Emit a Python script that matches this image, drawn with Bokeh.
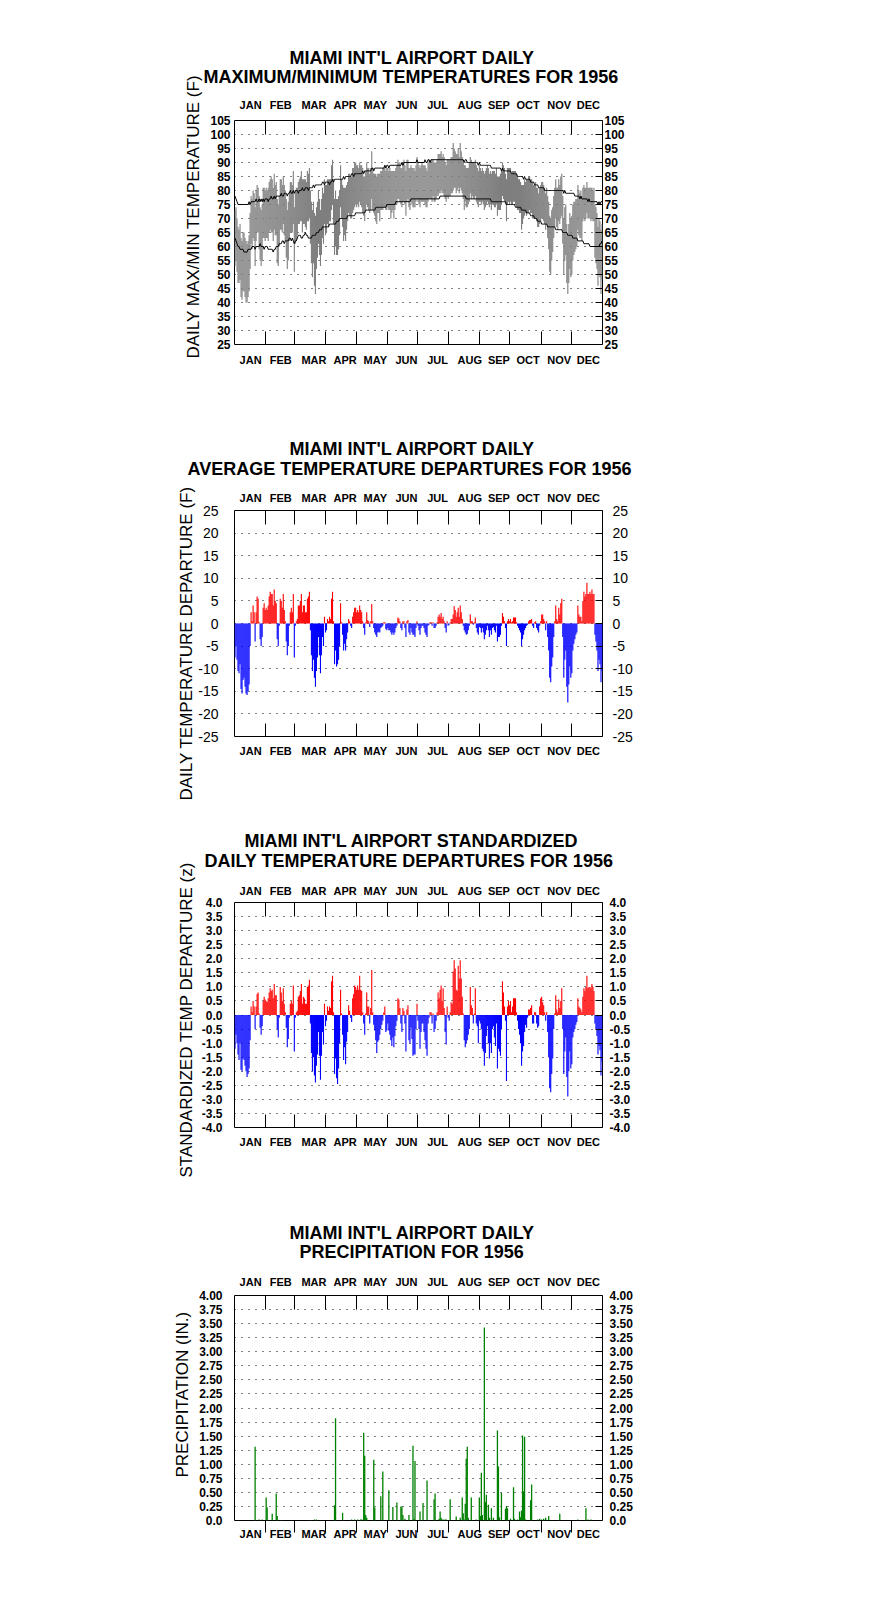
import numpy as np
from bokeh.plotting import figure
from bokeh.models import Range1d, LinearAxis, FixedTicker, Grid, Title, PrintfTickFormatter
from bokeh.layouts import column
from bokeh.embed import file_html
from bokeh.resources import INLINE

FONT = "Liberation Sans"

# ---------------- categories ----------------
MONTHS = ["JAN", "FEB", "MAR", "APR", "MAY", "JUN", "JUL", "AUG", "SEP", "OCT", "NOV", "DEC"]
MONTH_ENDS = [31, 60, 91, 121, 152, 182, 213, 244, 274, 305, 335]          # day-of-year month boundaries (1956, leap year)
MONTH_LABEL_POS = [16, 46, 79, 110, 140, 171, 202, 234, 263, 292, 323, 352]

# ---------------- daily maximum temperature (F) ----------------
tmax = [
    73,74,70,67,66,68,63,62,65,65,63,62,61,62,64,72,78,77,80,79,74,80,82,81,78,74,73,75,81,81,80,
    81,80,81,83,84,85,84,81,86,82,83,77,75,78,84,84,82,85,82,80,77,73,76,79,83,83,82,87,74,
    80,81,81,83,84,85,87,84,84,84,84,83,87,86,88,80,76,73,76,72,71,74,76,80,77,73,77,81,79,84,82,
    82,84,84,84,84,89,91,84,77,80,77,77,78,80,89,84,82,81,81,81,82,83,86,86,85,85,88,88,90,90,
    89,89,88,90,89,89,88,85,85,87,90,88,88,86,88,94,88,86,86,86,85,86,86,86,87,87,88,88,89,87,88,
    88,87,88,87,87,87,87,87,88,89,91,90,90,88,88,90,91,89,87,91,91,88,88,89,88,88,88,87,89,92,
    90,89,88,89,90,89,89,89,88,87,90,91,90,91,91,91,90,90,90,91,93,93,93,94,92,93,92,90,89,91,91,
    91,91,92,92,97,95,94,93,93,95,92,97,94,92,91,89,89,88,88,88,90,92,91,90,90,90,91,89,88,87,89,
    88,87,88,87,86,87,88,89,88,86,87,86,87,87,87,86,88,85,85,85,86,87,90,89,88,86,84,88,88,88,
    88,86,87,87,87,87,86,85,84,84,83,82,82,82,84,83,84,84,85,85,84,84,83,82,82,83,81,81,79,81,82,
    83,83,82,81,79,81,78,76,71,70,73,74,78,81,84,81,81,84,82,85,86,78,70,74,75,68,64,68,72,70,
    71,75,76,76,77,77,82,80,79,80,78,81,82,81,81,83,81,81,81,81,81,80,81,75,74,72,67,70,69,66,68,
]

# ---------------- daily minimum temperature (F) ----------------
tmin = [
    53,55,51,47,47,48,42,41,44,44,42,40,40,42,44,52,61,59,63,62,53,62,65,65,59,55,53,55,63,63,62,
    63,63,62,65,66,65,65,62,66,64,64,54,53,60,66,66,65,68,64,62,56,52,55,62,65,65,65,68,51,
    61,62,64,68,68,69,69,65,68,68,67,66,69,69,70,61,54,49,54,46,43,52,56,61,57,53,57,63,61,68,64,
    65,68,67,69,69,73,75,68,57,60,57,57,59,64,74,70,67,62,64,62,66,69,72,71,70,70,72,73,74,75,
    74,75,74,76,75,74,72,71,69,73,75,74,73,72,73,77,73,72,71,69,68,72,72,69,73,73,73,74,74,73,73,
    74,73,73,70,72,73,70,73,75,75,77,77,76,75,74,76,76,75,71,76,77,74,73,76,75,74,74,74,76,77,
    76,75,74,76,76,76,76,75,74,74,76,77,77,77,76,78,76,76,77,78,78,79,79,80,79,79,78,77,76,78,77,
    78,78,79,79,80,81,81,79,80,81,79,81,80,79,77,73,76,74,74,75,76,79,77,78,77,77,78,76,75,74,76,
    76,75,76,75,73,74,75,76,75,74,75,73,75,75,74,74,75,71,73,73,73,75,78,77,76,75,69,75,76,75,
    76,75,75,76,76,75,74,73,73,72,72,66,68,70,71,72,71,72,72,73,72,72,70,70,70,70,69,67,67,68,69,
    70,70,69,68,66,68,63,59,51,50,55,58,63,67,70,67,66,69,68,70,71,61,50,55,57,47,43,47,52,49,
    50,55,57,58,59,60,66,64,63,63,62,69,70,69,70,72,70,70,70,69,70,69,69,56,54,52,46,50,49,43,48,
]

# ---------------- normal maximum / minimum (F) ----------------
norm_max = [
    78,77,76,75,75,75,75,75,75,75,75,75,75,75,76,75,76,76,76,76,76,77,76,76,77,76,77,76,77,76,77,
    77,77,76,77,77,78,77,77,78,77,78,78,78,78,78,79,78,78,79,79,79,78,79,79,80,79,79,80,79,
    80,80,80,79,80,80,80,81,80,80,81,81,81,80,81,81,81,81,82,81,82,82,82,82,82,82,82,83,83,82,83,
    83,83,83,82,83,83,84,83,84,84,84,84,84,84,84,84,84,85,84,85,85,85,85,85,85,86,86,85,86,86,
    86,86,86,86,86,86,87,86,87,87,87,87,87,87,87,88,88,87,88,88,88,88,88,88,88,88,88,88,89,88,89,
    89,88,89,89,89,89,89,89,89,89,89,89,89,89,90,89,90,90,90,90,90,90,90,90,90,90,90,90,90,91,
    90,90,90,90,90,90,90,91,90,90,91,91,90,91,91,91,91,91,91,91,91,91,91,91,91,91,91,91,91,91,91,
    91,91,91,91,91,91,91,91,91,91,91,91,91,91,91,90,91,91,90,90,90,90,90,90,90,90,90,90,90,89,90,
    89,89,89,89,89,89,89,89,89,89,89,88,88,88,88,88,88,88,88,88,88,87,88,87,87,87,87,87,87,87,
    87,86,86,86,86,86,86,85,85,85,85,85,85,84,85,84,84,84,84,84,83,83,83,83,82,82,82,82,81,81,81,
    81,81,81,80,80,80,80,80,80,80,80,80,80,80,80,80,80,80,80,80,80,80,79,80,79,79,79,79,79,79,
    79,79,79,78,78,78,78,78,77,78,77,77,77,77,77,77,76,77,76,76,76,76,76,76,76,76,75,76,75,76,76,
]
norm_min = [
    63,62,61,60,60,59,59,59,59,58,58,58,58,59,59,59,59,60,60,60,59,60,60,60,60,61,60,60,60,59,60,
    60,60,59,59,59,59,59,58,59,59,60,60,60,61,61,61,62,62,61,62,62,62,62,63,63,62,63,62,61,
    62,62,63,64,64,64,63,63,64,64,65,64,64,63,63,63,63,64,64,64,64,65,65,65,66,66,66,67,67,67,67,
    67,67,67,68,68,68,68,68,68,68,69,69,69,70,70,70,70,70,70,70,70,71,71,71,71,71,71,71,71,72,
    72,72,72,72,72,72,72,72,72,73,73,73,73,73,73,73,73,73,73,74,74,74,74,74,74,74,74,74,74,74,75,
    75,75,75,75,75,75,75,75,76,76,76,76,76,76,76,76,76,76,76,76,76,76,76,77,77,77,77,77,77,77,
    77,77,77,77,77,77,77,77,77,77,77,77,77,77,77,77,77,77,77,77,77,77,78,78,78,78,78,78,78,78,78,
    78,78,78,78,78,78,78,78,78,78,78,78,78,78,78,78,78,77,77,77,77,77,77,77,77,77,77,77,77,77,77,
    77,77,77,77,77,77,77,77,77,77,77,76,76,76,76,76,76,76,76,76,76,76,76,76,76,76,75,75,75,75,
    75,75,75,75,75,74,74,74,74,74,74,73,73,73,73,73,72,72,72,72,71,71,71,71,70,70,70,69,69,69,69,
    68,68,68,68,68,68,67,67,67,67,67,67,67,67,66,66,66,66,66,66,66,65,65,65,65,65,64,64,64,64,
    64,63,63,63,63,63,62,62,62,62,62,62,61,61,61,61,61,61,60,60,60,60,60,60,60,60,60,60,61,61,62,
]

# ---------------- daily average temperature departure (F) ----------------
departure = [
    -7.5,-5,-8,-10.5,-11,-9,-14.5,-15.5,-12.5,-12,-14,-15.5,-15.8,-15,-13.5,-5,2.5,0.5,4,2.5,-4,2.5,6,5.5,0.3,-3.5,-5,-3,3.5,4.5,3,
    3.5,3,4,6,7,6.5,6.5,4,7.5,5,4.5,-3.5,-5,-0.5,5.5,5,3.5,6.5,3,0.5,-4,-7,-5,-0.5,2.5,3.5,2.5,6.5,-7.5,
    -0.5,0.5,1,4,4,5,6.5,2.5,4,4,2.5,2.5,5.5,6,7,-1.5,-7,-10.5,-8,-12,-14,-10.5,-7.5,-3,-7,-11,-7,-3,-5,1.5,-2,
    -1.5,1,0.5,1.5,1,5.5,7,0.5,-9,-6,-9.5,-9,-8,-5,4.5,0.3,-2.5,-6,-4.5,-6,-3.5,-2,1,0.5,-0.5,-1,1.5,2.5,3.5,3.5,
    2.5,3,2.5,4,3,2.5,0.5,-1,-2.5,0.3,2.5,0.8,0.5,-0.8,0.5,4.3,0.5,-1,-2,-2.5,-3,-2,-1.8,-2,-1,-0.8,-0.5,0.3,0.3,-1.2,-1.5,
    -1,-1.5,-1.5,-2,-2.5,-2,-2.5,-2,-1,-0.5,1.3,1.1,0.5,-1,-1.5,0.5,0.5,-1,-3,0.5,0.8,-2,-2.5,-1,-2,-2.5,-2.5,-3,-1,0.5,
    -0.5,-1.5,-2.5,-1,-0.5,-0.5,-1,-2,-2.5,-3,-0.5,-0.3,0.3,0.3,-0.5,0.3,-1,-1,-0.5,0.3,1.5,2,1.5,2.3,1,1.5,0.5,-1,-2,0.5,-0.5,
    -0.3,0.3,1,1,2,3.8,3,1.5,2.5,3.5,1.5,4,2.5,1,-0.5,-1.5,-2,-2.5,-2.3,-1.5,-0.5,2,0.5,0.5,-0.3,0.3,1.3,-1,-2,-2.5,-0.8,
    -1,-2,-1,-2,-3.5,-2.5,-1.5,-0.5,-1.5,-3,-1.5,-2.5,-1,-0.8,-1.5,-2,-0.5,-4,-3,-3,-2.5,-0.5,2.3,1.5,0.5,-1,-5,0.5,1,0.5,
    1,0.3,0.5,1.3,1.3,1.3,0.3,-0.5,-1,-1.5,-2,-5,-3.5,-2.5,-1.5,-1,-0.5,-0.3,0.5,0.8,0.8,1,-0.5,-1,0.3,0.5,-1,-1.5,-2,-0.5,0.5,
    2,2,1,0.5,-1.5,0.5,-3,-6,-12,-13,-9.5,-7.5,-3,0.5,4,1,0.5,3.5,2,4.5,5.5,-3,-12,-8,-6,-14,-17.5,-13.5,-9.5,-12,
    -11,-6,-4.5,-3.5,-2.5,-2,4,2,1.5,1.5,0.5,5,7,6,6.5,9,6.5,6.5,7,6.5,7.5,6.5,6.5,-2.5,-4,-6,-10.5,-8,-9,-13,-10.5,
]

# ---------------- standardized daily departure (z) ----------------
zscore = [
    -1.2,-0.7,-1.0,-1.4,-1.6,-1.0,-1.95,-2.0,-1.55,-1.6,-1.8,-2.0,-2.2,-2.1,-1.9,-0.9,0.3,0.1,0.5,0.3,-0.5,0.3,0.75,0.8,0.05,-0.45,-0.7,-0.4,0.5,0.65,0.55,
    0.5,0.45,0.6,0.8,0.95,0.85,0.9,0.6,1.1,0.7,0.7,-0.5,-0.8,-0.1,1.0,0.8,0.5,0.95,0.4,0.1,-0.45,-1.15,-0.85,-0.1,0.4,0.5,0.4,1.05,-1.3,
    -0.1,0.1,0.15,0.65,0.7,0.85,1.1,0.4,0.65,0.6,0.4,0.4,1.0,1.05,1.25,-0.3,-1.35,-2.0,-1.5,-2.15,-2.4,-1.8,-1.4,-0.6,-1.45,-2.3,-1.45,-0.6,-1.05,0.4,-0.4,
    -0.2,0.3,0.15,0.3,0.25,1.2,1.4,0.1,-2.1,-1.55,-2.25,-2.45,-1.9,-1.0,0.9,0.05,-0.7,-1.6,-1.15,-1.75,-0.95,-0.6,0.35,0.15,-0.1,-0.25,0.6,0.75,1.05,1.0,
    0.9,1.05,0.9,1.4,0.9,0.85,0.1,-0.3,-0.7,0.05,0.8,0.3,0.3,-0.3,0.25,1.6,0.1,-0.35,-0.55,-0.9,-1.35,-0.95,-0.9,-0.7,-0.5,-0.35,-0.2,0.1,0.3,-0.6,-0.55,
    -0.3,-0.55,-0.7,-0.9,-1.1,-0.8,-1.15,-0.75,-0.4,-0.2,0.6,0.55,0.25,-0.3,-0.6,0.25,0.15,-0.3,-1.3,0.2,0.35,-0.9,-1.0,-0.45,-0.85,-1.45,-1.4,-1.4,-0.5,0.4,
    -0.2,-0.5,-1.2,-0.6,-0.3,-0.3,-0.6,-0.9,-1.2,-1.45,-0.3,-0.1,0.1,0.1,-0.3,0.05,-0.6,-0.5,-0.2,0.1,0.8,0.6,0.9,1.05,0.5,0.95,0.25,-0.6,-1.05,0.3,-0.1,
    -0.2,0.1,0.45,0.4,1.55,1.95,1.65,0.9,0.85,1.75,1.3,1.95,1.3,0.65,0.05,-0.9,-1.15,-1.0,-0.9,-0.7,-0.5,1.0,0.35,0.25,-0.3,0.05,0.95,-0.3,-0.4,-1.0,-0.2,
    -0.3,-0.5,-1.2,-1.3,-1.8,-1.35,-0.75,-0.4,-1.0,-1.55,-1.0,-1.35,-0.5,-0.4,-0.8,-1.1,-0.3,-1.9,-1.2,-1.3,-1.45,-0.5,1.2,0.8,0.3,-0.2,-2.35,0.3,0.5,0.35,
    0.5,0.1,0.3,0.6,0.6,0.6,0.1,-0.2,-0.5,-0.7,-1.0,-1.8,-1.3,-1.1,-0.6,-0.35,-0.45,-0.1,0.2,0.2,0.25,0.35,-0.3,-0.3,0.1,0.1,-0.3,-0.45,-0.4,0.3,0.6,
    0.65,0.45,0.35,0.1,-0.2,0.1,-0.6,-1.5,-2.6,-2.75,-2.1,-1.55,-0.5,0.05,0.7,0.2,0.1,0.55,0.25,0.5,0.95,-0.5,-2.1,-1.3,-0.8,-2.2,-2.9,-2.0,-1.3,-1.9,
    -1.75,-0.8,-0.6,-0.5,-0.35,-0.25,0.6,0.3,0.25,0.2,0.1,0.65,0.95,0.85,1.0,1.4,0.95,1.0,1.0,0.95,1.1,1.0,0.85,-0.3,-0.5,-0.75,-1.4,-1.1,-1.25,-2.15,-1.65,
]

# ---------------- daily precipitation (in.) ----------------
precip = [
    0,0,0,0,0,0,0,0,0,0,0,0,0,0,0,0,0,0,0,0,1.31,0,0,0,0.02,0,0,0.02,0,0,0,
    0.41,0.23,0,0,0,0,0.12,0,0,0,0.48,0.08,0,0,0,0.01,0,0,0,0,0,0,0,0,0,0,0,0,0,
    0,0,0,0,0,0,0,0,0,0,0,0,0,0,0,0.01,0,0,0,0.02,0,0.02,0,0,0,0,0,0,0,0,0,
    0,0,0,0,0,0,0,0,0.27,1.82,0,0,0,0,0,0,0.14,0,0,0,0,0,0,0,0,0.02,0,0,0.02,0,
    0,0.02,0,0,0.02,0.02,0,1.56,1.15,0.10,0.05,0,0,0,0,0,0,1.08,0.23,0,0,0,0,0,0.43,0,0.87,0,0,0,0,
    0,0.54,0,0,0,0.24,0,0,0,0.32,0,0,0,0.25,0.25,0.10,0,0.03,0,0,0,0.10,0,0,0,1.33,0.03,1.06,0,0,
    0,0,0.16,0,0,0.31,0,0,0,0.71,0,0,0,0,0,0,0.38,0.48,0,0,0,0.03,0.16,0.05,0.02,0.02,0,0.02,0.02,0,0,
    0,0.38,0,0,0,0,0,0.07,0,0,0,0.05,0,0.41,0.13,0.02,0.30,1.10,1.31,0.05,0,0,0.41,0,0,0,0,0.02,0,0,0.41,
    0.08,0.85,0.10,0,3.43,0.33,0.46,0,0.28,0.05,0,0.22,0,0.05,0,0,0,1.60,0.96,0.06,0,0.49,0,0,0,0.21,0.26,0.22,0,0,
    0.03,0,0,0.59,0.03,0,0,0.02,0,0.16,0.06,0.18,1.51,0.52,1.49,0.02,0,0,0,0,0.36,0.64,0,0,0,0,0,0.02,0,0.03,0,
    0.02,0,0.03,0,0.05,0,0,0.08,0,0,0,0,0,0,0,0,0,0,0.12,0,0,0,0,0,0,0,0,0,0,0,
    0,0,0,0,0,0,0.02,0,0,0,0,0,0,0,0.22,0,0.02,0,0,0.02,0,0,0,0,0,0,0,0,0,0,0,
]

days = np.arange(1, len(tmax) + 1) - 0.5


def month_axis(tick_in, tick_out, standoff):
    return LinearAxis(
        ticker=FixedTicker(ticks=MONTH_LABEL_POS, minor_ticks=MONTH_ENDS),
        major_label_overrides={pos: m for pos, m in zip(MONTH_LABEL_POS, MONTHS)},
        major_tick_in=0, major_tick_out=0,
        minor_tick_in=tick_in, minor_tick_out=tick_out, minor_tick_line_color="black",
        axis_line_color=None,
        major_label_text_font=FONT, major_label_text_font_style="bold",
        major_label_text_font_size="11px", major_label_text_color="black",
        major_label_standoff=standoff)


def value_axis(ticks, fmt, size, style, standoff, tick_in, overrides=None):
    return LinearAxis(
        ticker=FixedTicker(ticks=ticks), formatter=PrintfTickFormatter(format=fmt),
        major_label_overrides=overrides or {},
        major_tick_in=tick_in, major_tick_out=0, major_tick_line_color="black",
        minor_tick_in=0, minor_tick_out=0, axis_line_color=None,
        major_label_text_font=FONT, major_label_text_font_style=style,
        major_label_text_font_size=size, major_label_text_color="black",
        major_label_standoff=standoff)


def make_panel(height, btop, bbottom, yr, yticks, fmt, size, style, lstand, rstand,
               title1, title2, t_offsets, t_standoffs, top_standoff, bot_standoff, bot_in, bot_out,
               ytitle, y_offset, y_standoff, overrides=None):
    p = figure(width=870, height=height, x_range=Range1d(0, 366), y_range=Range1d(*yr),
               x_axis_location=None, y_axis_location=None, toolbar_location=None,
               output_backend="svg", min_border_left=234, min_border_right=268,
               min_border_top=btop, min_border_bottom=bbottom)
    p.center = [r for r in p.center if not isinstance(r, Grid)]
    p.outline_line_color = "black"
    p.outline_line_width = 1
    p.outline_line_alpha = 1.0
    p.add_layout(Grid(dimension=1, ticker=FixedTicker(ticks=yticks), grid_line_color="black",
                      grid_line_dash="1 6", grid_line_width=1))
    p.add_layout(value_axis(yticks, fmt, size, style, lstand, 0, overrides), "left")
    p.add_layout(value_axis(yticks, fmt, size, style, rstand, 7, overrides), "right")
    p.add_layout(month_axis(14, 0, top_standoff), "above")
    p.add_layout(month_axis(bot_in, bot_out, bot_standoff), "below")
    # two-line chart title (line 2 nearest the month labels)
    p.add_layout(Title(text=title2, align="left", offset=t_offsets[1], standoff=t_standoffs[1],
                       text_font=FONT, text_font_style="bold", text_font_size="18px",
                       text_color="black"), "above")
    p.add_layout(Title(text=title1, align="left", offset=t_offsets[0], standoff=t_standoffs[0],
                       text_font=FONT, text_font_style="bold", text_font_size="18px",
                       text_color="black"), "above")
    # vertical axis title
    p.add_layout(Title(text=ytitle, align="left", offset=y_offset, standoff=y_standoff,
                       text_font=FONT, text_font_style="normal", text_font_size="17px",
                       text_color="black"), "left")
    return p


# ---- panel 1: max / min temperatures ----
p1 = make_panel(400, 120, 56, (25, 105), list(range(25, 106, 5)), "%d", "12px", "bold", 4, 2,
                "MIAMI INT'L AIRPORT DAILY", "MAXIMUM/MINIMUM TEMPERATURES FOR 1956",
                (55, -31), (-23.8, 17.4), 10, 9, 13, 0,
                "DAILY MAX/MIN TEMPERATURE (F)", -14, 9)
p1.vbar(x=days, bottom=tmin, top=tmax, width=1.1, fill_color="#7f7f7f", line_color=None)
p1.line(x=days, y=norm_max, line_color="black", line_width=1)
p1.line(x=days, y=norm_min, line_color="black", line_width=1)

# ---- panel 2: departures ----
dep_colors = ["#ff0000" if v > 0 else "#0000ff" for v in departure]
p2 = make_panel(406, 110, 70, (-25, 25), list(range(-25, 26, 5)), "%d", "14px", "normal", 16, 10,
                "MIAMI INT'L AIRPORT DAILY", "AVERAGE TEMPERATURE DEPARTURES FOR 1956",
                (55, -47), (-25, 19.8), 7, 8, 13, 0,
                "DAILY TEMPERATURE DEPARTURE (F)", -64, -1)
p2.vbar(x=days, bottom=0, top=departure, width=1.1, fill_color=dep_colors, line_color=None)

# ---- panel 3: standardized departures ----
z_colors = ["#ff0000" if v > 0 else "#0000ff" for v in zscore]
zt = [round(-4 + 0.5 * i, 1) for i in range(17)]
p3 = make_panel(384, 96, 63, (-4, 4), zt, "%.1f", "12px", "bold", 12, 7,
                "MIAMI INT'L AIRPORT STANDARDIZED", "DAILY TEMPERATURE DEPARTURES FOR 1956",
                (10, -30), (-26, 21.8), 6, 8, 13, 0,
                "STANDARDIZED TEMP DEPARTURE (z)", -50, 5)
p3.vbar(x=days, bottom=0, top=zscore, width=1.1, fill_color=z_colors, line_color=None)

# ---- panel 4: precipitation ----
pt = [round(0.25 * i, 2) for i in range(17)]
p4 = make_panel(410, 105, 80, (0, 4), pt, "%.2f", "12px", "bold", 12, 7,
                "MIAMI INT'L AIRPORT DAILY", "PRECIPITATION FOR 1956",
                (55, 65), (-26.2, 20.6), 8, -5, 0, 12,
                "PRECIPITATION (IN.)", 43, 9, overrides={0: "0.0"})
p4.vbar(x=days, bottom=0, top=precip, width=1.3, fill_color="#008000", line_color=None)

layout = column(p1, p2, p3, p4, spacing=0)
open("out.html", "w").write(file_html(layout, INLINE))
